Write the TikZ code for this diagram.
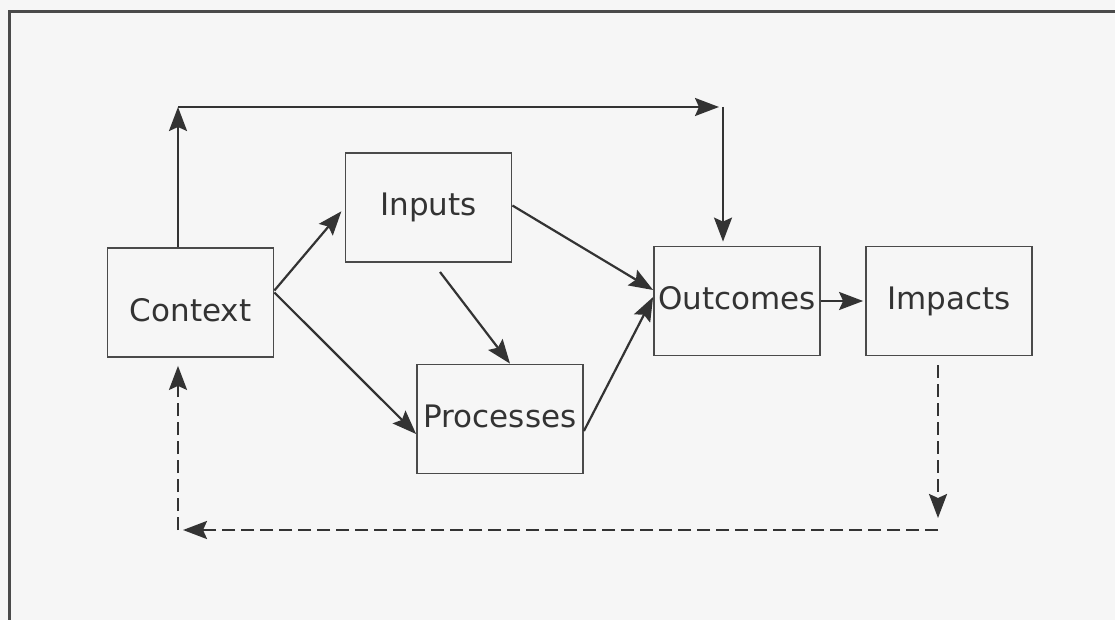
\documentclass[tikz,border=0pt]{standalone}
\usepackage{fontspec}
\setmainfont{DejaVu Sans}
\usetikzlibrary{arrows.meta,calc}
\definecolor{ink}{HTML}{333333}
\definecolor{edge}{HTML}{4A4A4A}
\definecolor{paper}{HTML}{F6F6F6}
\begin{document}
\begin{tikzpicture}[x=1pt,y=-1pt,
  stage/.style={draw=edge,line width=1.8pt,minimum width=166pt,minimum height=109pt,
    inner sep=0pt,font=\fontsize{31}{36}\selectfont,text=ink,text height=23pt,text depth=7pt},
  arr/.style={draw=ink,line width=2.2pt,-{Stealth[length=24pt,width=18pt,inset=4pt]}},
  darr/.style={arr,line width=2.4pt,dash pattern=on 13pt off 6pt}]
  % page and frame
  \fill[paper] (0,0) rectangle (1115,620);
  \useasboundingbox (0,0) rectangle (1115,620);
  \draw[edge,line width=3pt] (9.5,640) -- (9.5,12) -- (1130,12);

  % stages
  \node[stage] (Context)   at (190.5,302.5) {\raisebox{-11pt}{Context}};
  \node[stage] (Inputs)    at (428.5,207.5) {Inputs};
  \node[stage] (Processes) at (500,419)     {Processes};
  \node[stage] (Outcomes)  at (737,301)     {Outcomes};
  \node[stage] (Impacts)   at (949,301)     {Impacts};

  % bends of the long connectors
  \coordinate (up)    at (178,107);
  \coordinate (over)  at (723,107);
  \coordinate (down)  at (938,530);
  \coordinate (back)  at (178,530);
  \coordinate (ipsrc) at (440,272);

  % context straight to outcomes, over the top
  \draw[arr] (up |- Context.north) -- (up);
  \draw[arr,shorten >=4pt] (up) -- (over);
  \draw[arr,shorten >=4pt] (over) -- (over |- Outcomes.north);

  % flows through the middle
  \draw[arr,shorten >=5pt] ([yshift=12pt]Context.east) -- (Inputs.west);
  \draw[arr] ([yshift=10pt]Context.east) -- ([yshift=-15pt]Processes.west);
  \draw[arr] ([yshift=2pt]Inputs.east) -- ([yshift=11pt]Outcomes.west);
  \draw[arr] (ipsrc) -- ([xshift=10pt]Processes.north);
  \draw[arr] ([yshift=-12pt]Processes.east) -- ([yshift=4pt]Outcomes.west);
  \draw[arr,shorten >=2pt] (Outcomes.east) -- (Impacts.west);

  % feedback from impacts to context
  \draw[darr,shorten <=9pt,shorten >=12pt] (down |- Impacts.south) -- (down);
  \draw[darr,shorten >=5pt] (down) -- (back);
  \draw[darr,shorten >=8pt] (back) -- (back |- Context.south);
\end{tikzpicture}
\end{document}
